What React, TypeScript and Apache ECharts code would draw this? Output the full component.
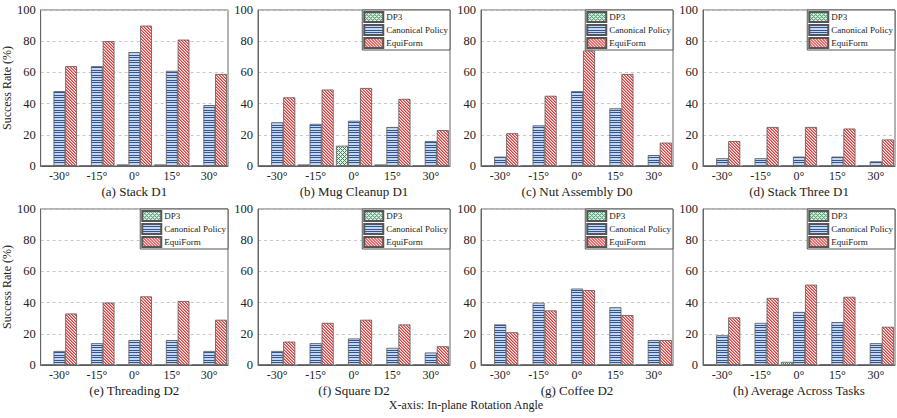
import React, { useEffect, useRef } from "react";
import * as echarts from "echarts";

const CATEGORIES = ["-30°", "-15°", "0°", "15°", "30°"];
const TITLES = [
  "(a) Stack D1",
  "(b) Mug Cleanup D1",
  "(c) Nut Assembly D0",
  "(d) Stack Three D1",
  "(e) Threading D2",
  "(f) Square D2",
  "(g) Coffee D2",
  "(h) Average Across Tasks",
];
const SERIES_NAMES = ["DP3", "Canonical Policy", "EquiForm"];
const DP3 = [
  [0, 0, 1, 1, 0],
  [0, 1, 13, 1, 0],
  [0, 0, 0, 0, 0],
  [0, 0, 0, 0, 0],
  [0, 0, 0, 0, 0],
  [0, 0, 0, 0, 0],
  [0, 0, 0, 0, 0],
  [0, 0.3, 2, 0.3, 0],
];
const CANONICAL = [
  [48, 64, 73, 61, 39],
  [28, 27, 29, 25, 16],
  [6, 26, 48, 37, 7],
  [5, 5, 6, 6, 3],
  [9, 14, 16, 16, 9],
  [9, 14, 17, 11, 8],
  [26, 40, 49, 37, 16],
  [19, 27, 34, 27.5, 14],
];
const EQUIFORM = [
  [64, 80, 90, 81, 59],
  [44, 49, 50, 43, 23],
  [21, 45, 74, 59, 15],
  [16, 25, 25, 24, 17],
  [33, 40, 44, 41, 29],
  [15, 27, 29, 26, 12],
  [21, 35, 48, 32, 16],
  [30.5, 43, 51.5, 43.7, 24.5],
];
const Y_TICKS = [0, 20, 40, 60, 80, 100];

const FONT = "Liberation Serif";
const W = 897;
const H = 418;
const LEFTS = [36, 258, 481, 703];
const TOPS = [10, 209];
const GW = 192;
const GH = 156;

function makePattern(w: number, h: number, colorAt: (x: number, y: number) => string) {
  const c = document.createElement("canvas");
  c.width = w;
  c.height = h;
  const ctx = c.getContext("2d")!;
  for (let y = 0; y < h; y++)
    for (let x = 0; x < w; x++) {
      ctx.fillStyle = colorAt(x, y);
      ctx.fillRect(x, y, 1, 1);
    }
  return { image: c.toDataURL(), repeat: "repeat", imageWidth: w, imageHeight: h } as any;
}

const mod = (a: number, n: number) => ((a % n) + n) % n;

export default function App() {
  const ref = useRef<HTMLDivElement>(null);
  useEffect(() => {
    if (!ref.current) return;
    const chart = echarts.init(ref.current, null, { renderer: "svg" });
    const green = makePattern(4, 4, (x, y) =>
      mod(x + y, 4) === 0 || mod(x - y, 4) === 0 ? "#2e8b57" : "#e4f2e8"
    );
    const blue = makePattern(4, 5, (_x, y) => (y === 0 || y === 2 ? "#2f5597" : "#c6d6ec"));
    const red = makePattern(3, 3, (x, y) => {
      const m = mod(x - y, 3);
      return m === 0 ? "#e03a3a" : m === 1 ? "#ef8c8c" : "#fdf1f1";
    });
    const fills = [green, blue, red];
    const data = [DP3, CANONICAL, EQUIFORM];

    const grid: any[] = [];
    const xAxis: any[] = [];
    const yAxis: any[] = [];
    const series: any[] = [];
    const legend: any[] = [];
    for (let i = 0; i < 8; i++) {
      const col = i % 4;
      const row = Math.floor(i / 4);
      const left = LEFTS[col];
      const top = TOPS[row];
      grid.push({ left, top, width: GW, height: GH, show: true, borderColor: "#666", borderWidth: 1, backgroundColor: "transparent" });
      xAxis.push({
        type: "category",
        gridIndex: i,
        data: CATEGORIES,
        axisLine: { lineStyle: { color: "#666" } },
        axisTick: { show: false },
        axisLabel: { fontSize: 12, color: "#222", fontFamily: FONT, margin: 4 },
        name: TITLES[i],
        nameLocation: "middle",
        nameGap: 19,
        nameTextStyle: { fontSize: 13, color: "#222", fontFamily: FONT },
      });
      yAxis.push({
        type: "value",
        gridIndex: i,
        min: Y_TICKS[0],
        max: Y_TICKS[Y_TICKS.length - 1],
        interval: Y_TICKS[1] - Y_TICKS[0],
        axisLine: { show: true, lineStyle: { color: "#666" } },
        axisTick: { show: false },
        axisLabel: { fontSize: 12.5, color: "#222", fontFamily: FONT, margin: 5 },
        splitLine: { lineStyle: { type: [3, 3], color: "#c8c8c8" } },
        name: col === 0 ? "Success Rate (%)" : "",
        nameLocation: "middle",
        nameGap: 23,
        nameTextStyle: { fontSize: 12, color: "#222", fontFamily: FONT },
      });
      for (let s = 0; s < 3; s++) {
        series.push({
          type: "bar",
          name: SERIES_NAMES[s],
          xAxisIndex: i,
          yAxisIndex: i,
          data: data[s][i],
          barGap: "0%",
          barCategoryGap: "6%",
          itemStyle: { color: fills[s], borderColor: "#555", borderWidth: 0.8 },
          emphasis: { disabled: true },
        });
      }
      if (i !== 0) {
        legend.push({
          data: SERIES_NAMES,
          orient: "vertical",
          right: W - (left + GW),
          top,
          icon: "rect",
          itemWidth: 19,
          itemHeight: 10,
          itemGap: 1,
          padding: [1, 2, 1, 1],
          backgroundColor: "#fff",
          borderColor: "#555",
          borderWidth: 1,
          selectedMode: false,
          textStyle: { fontSize: 9, lineHeight: 11, color: "#222", fontFamily: FONT, padding: [0, 0, 0, -2] },
        });
      }
    }

    chart.setOption({
      animation: false,
      backgroundColor: "#fff",
      grid,
      xAxis,
      yAxis,
      series,
      legend,
      graphic: [
        {
          type: "text",
          x: 466,
          y: 405,
          style: {
            text: "X-axis: In-plane Rotation Angle",
            fontSize: 12,
            fontFamily: FONT,
            fill: "#222",
            textAlign: "center",
            textVerticalAlign: "middle",
          },
        },
      ],
    });
    return () => chart.dispose();
  }, []);
  return <div ref={ref} style={{ position: "fixed", left: 0, top: 0, width: W, height: H }} />;
}
